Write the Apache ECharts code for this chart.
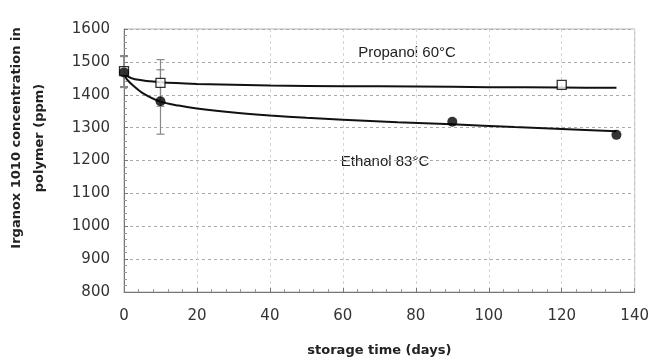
<!DOCTYPE html>
<html>
<head>
<meta charset="utf-8">
<script src="https://cdn.jsdelivr.net/npm/echarts@6/dist/echarts.min.js"></script>
<style>
  html, body { margin: 0; padding: 0; background: #fff; }
  #chart { width: 652px; height: 362px; }
</style>
</head>
<body>
<div id="chart"></div>
<script>
// measured points (storage time in days, ppm)
const propanolPoints = [[0, 1472], [10, 1436], [120, 1430]];
const ethanolPoints = [[0, 1468], [10, 1380], [90, 1318], [135, 1278]];

// error bars: [day, low, high]
const propanolErrors = [[0, 1425, 1519], [10, 1365, 1507]];
const ethanolErrors = [[0, 1422, 1516], [10, 1280, 1476]];

// fitted curves
const propanolCurve = [[0, 1466], [1, 1456], [3, 1447], [10, 1438], [20, 1433], [40, 1428], [60, 1426],
    [80, 1425], [100, 1423], [120, 1422], [135, 1421]];
const ethanolCurve = [[0, 1468], [0.5, 1452], [1, 1444], [2.5, 1428], [5, 1406], [10, 1379], [15, 1367],
    [20, 1358], [30, 1346], [40, 1337], [50, 1330], [60, 1324], [75, 1316], [90, 1310], [107, 1302],
    [120, 1296], [135, 1289]];

const xTicks = [0, 20, 40, 60, 80, 100, 120, 140];
const yTicks = [800, 900, 1000, 1100, 1200, 1300, 1400, 1500, 1600];

document.addEventListener('DOMContentLoaded', function() {
    const chart = echarts.init(document.getElementById('chart'));
    const font = 'DejaVu Sans';
    const noteFont = 'Liberation Sans';

    function errorBars(data) {
        return {
            type: 'custom',
            data: data,
            z: 3,
            renderItem: function(params, api) {
                const x = api.value(0);
                const lo = api.coord([x, api.value(1)]);
                const hi = api.coord([x, api.value(2)]);
                const cap = 4;
                const style = { stroke: '#888', lineWidth: 1.2 };
                return {
                    type: 'group',
                    children: [
                        { type: 'line', shape: { x1: lo[0], y1: lo[1], x2: hi[0], y2: hi[1] }, style: style },
                        { type: 'line', shape: { x1: lo[0] - cap, y1: lo[1], x2: lo[0] + cap, y2: lo[1] }, style: style },
                        { type: 'line', shape: { x1: hi[0] - cap, y1: hi[1], x2: hi[0] + cap, y2: hi[1] }, style: style }
                    ]
                };
            }
        };
    }

    const option = {
        animation: false,
        backgroundColor: '#fff',
        grid: {
            left: 124, right: 15, top: 29, bottom: 69,
            show: true, borderColor: '#b5b5b5', borderWidth: 1
        },
        xAxis: {
            type: 'value',
            min: xTicks[0],
            max: xTicks[xTicks.length - 1],
            interval: 20,
            name: 'storage time (days)',
            nameLocation: 'middle',
            nameGap: 52,
            nameTextStyle: { fontFamily: font, fontWeight: 'bold', fontSize: 13, color: '#222' },
            axisLine: { lineStyle: { color: '#777', width: 1 } },
            axisTick: { inside: true, length: 4, lineStyle: { color: '#777' } },
            minorTick: { show: true, splitNumber: 5, length: 3, lineStyle: { color: '#999' } },
            axisLabel: { fontFamily: font, fontSize: 15, color: '#333', margin: 17, formatter: v => String(v) },
            splitLine: { show: true, lineStyle: { color: '#d4d4d4', type: [3, 3] } }
        },
        yAxis: {
            type: 'value',
            min: yTicks[0],
            max: yTicks[yTicks.length - 1],
            interval: 100,
            axisLine: { show: true, lineStyle: { color: '#777', width: 1 } },
            axisTick: { show: true, inside: true, length: 4, lineStyle: { color: '#777' } },
            minorTick: { show: true, splitNumber: 5, length: 3, lineStyle: { color: '#999' } },
            axisLabel: { fontFamily: font, fontSize: 15, color: '#333', margin: 14, formatter: v => String(v) },
            splitLine: { show: true, lineStyle: { color: '#aaa', type: [3, 3] } }
        },
        graphic: [
            {
                type: 'text', x: 28, y: 138, rotation: Math.PI / 2,
                style: {
                    text: 'Irganox 1010 concentration in\npolymer (ppm)',
                    fontFamily: font, fontWeight: 'bold', fontSize: 13, fill: '#222',
                    align: 'center', verticalAlign: 'middle', lineHeight: 23
                }
            },
            {
                type: 'text', x: 407, y: 53,
                style: { text: 'Propanol 60°C', fontFamily: noteFont, fontSize: 15, fill: '#222', align: 'center', verticalAlign: 'middle' }
            },
            {
                type: 'text', x: 385, y: 162,
                style: { text: 'Ethanol 83°C', fontFamily: noteFont, fontSize: 15, fill: '#222', align: 'center', verticalAlign: 'middle' }
            }
        ],
        series: [
            {
                name: 'Propanol fit', type: 'line', data: propanolCurve, smooth: 0.3,
                showSymbol: false, lineStyle: { color: '#111', width: 2 }, z: 2
            },
            {
                name: 'Ethanol fit', type: 'line', data: ethanolCurve, smooth: 0.3,
                showSymbol: false, lineStyle: { color: '#111', width: 2 }, z: 2
            },
            errorBars(propanolErrors),
            errorBars(ethanolErrors),
            {
                name: 'Propanol 60°C', type: 'scatter', data: propanolPoints, symbol: 'rect', symbolSize: 9,
                itemStyle: { color: '#fff', borderColor: '#000', borderWidth: 1.3 }, z: 4
            },
            {
                name: 'Ethanol 83°C', type: 'scatter', data: ethanolPoints, symbol: 'circle', symbolSize: 10,
                itemStyle: { color: '#000' }, z: 5
            }
        ]
    };

    chart.setOption(option);
});
</script>
</body>
</html>
